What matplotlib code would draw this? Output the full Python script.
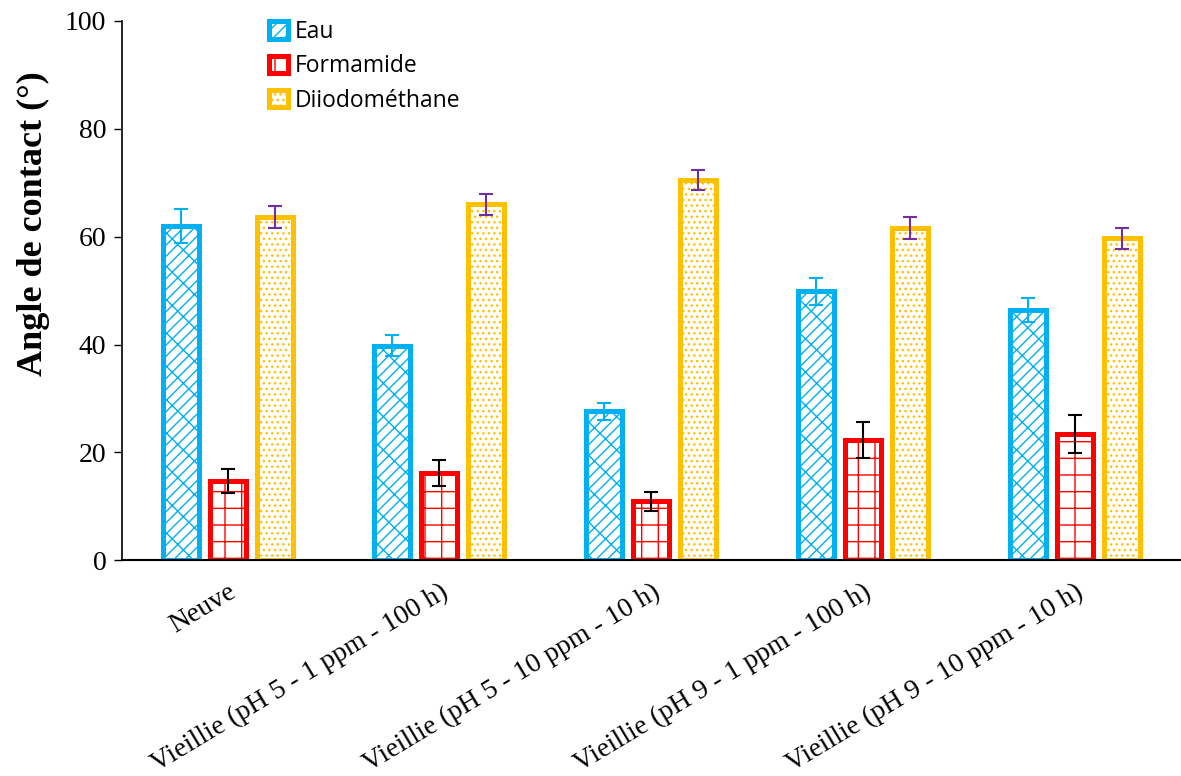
import numpy as np
import matplotlib.pyplot as plt

plt.rcParams['hatch.linewidth'] = 1.0

categories = ["Neuve",
              "Vieillie (pH 5 - 1 ppm - 100 h)",
              "Vieillie (pH 5 - 10 ppm - 10 h)",
              "Vieillie (pH 9 - 1 ppm - 100 h)",
              "Vieillie (pH 9 - 10 ppm - 10 h)"]
series = ["Eau", "Formamide", "Diiodométhane"]
eau = [62.0, 39.8, 27.6, 49.9, 46.4]
eau_err = [3.2, 2.0, 1.5, 2.5, 2.3]
formamide = [14.7, 16.1, 10.9, 22.3, 23.4]
formamide_err = [2.2, 2.4, 1.7, 3.4, 3.5]
diiodo = [63.6, 66.0, 70.5, 61.6, 59.7]
diiodo_err = [2.0, 1.9, 1.9, 2.0, 2.0]

colors = ["#00B0F0", "#FF0000", "#FFC000"]
err_colors = ["#00B0F0", "black", "#7030A0"]
hatches = ["x//", "+", "..."]

fig = plt.figure(figsize=(11.81, 7.76), dpi=100)
ax = fig.add_axes([0.103, 0.278, 0.897, 0.695])

x = np.arange(len(categories))
width = 0.17
offsets = [-0.222, 0.0, 0.222]
vals = [eau, formamide, diiodo]
errs = [eau_err, formamide_err, diiodo_err]

for i in range(3):
    ax.bar(x + offsets[i], vals[i], width, facecolor="white", edgecolor=colors[i],
           linewidth=3.6, hatch=hatches[i], label=series[i], zorder=2)
    ax.errorbar(x + offsets[i], vals[i], yerr=errs[i], fmt="none",
                ecolor=err_colors[i], elinewidth=1.5, capsize=5, capthick=1.5, zorder=3)

ax.set_xlim(-0.5, len(categories) - 0.5)
ax.set_ylim(0, 100)
ax.set_yticks(range(0, 101, 20))
ax.set_xticks(x)
ax.set_xticklabels(categories, rotation=31, ha="right", rotation_mode="anchor",
                   family="Liberation Serif", fontsize=20)
for t in ax.get_yticklabels():
    t.set_family("Liberation Serif")
    t.set_fontsize(20)
ax.tick_params(axis="x", length=0, pad=14)
ax.tick_params(axis="y", length=6, width=1, direction="out", pad=5)
ax.set_ylabel("Angle de contact (°)", family="Liberation Serif", fontsize=26,
              fontweight="bold")
ax.yaxis.set_label_coords(-0.068, 0.625)

for s in ["top", "right"]:
    ax.spines[s].set_visible(False)
ax.spines["left"].set_linewidth(1.2)
ax.spines["bottom"].set_linewidth(1.5)

leg = ax.legend(loc="upper left", bbox_to_anchor=(0.12, 1.04), frameon=False,
                prop={"family": "Open Sans", "size": 16.5}, handlelength=0.8,
                handleheight=0.8, handletextpad=0.3, labelspacing=0.45)

fig.savefig("out.png", dpi=100)
